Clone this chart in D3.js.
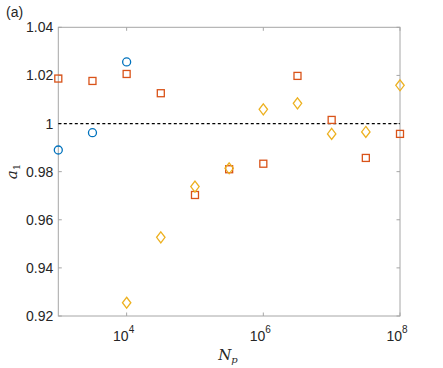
<!DOCTYPE html>
<html><head><meta charset="utf-8">
<script src="https://cdn.jsdelivr.net/npm/d3@7"></script>
<style>body{margin:0;background:#fff;} text{font-family:"Liberation Sans",Arial,sans-serif;} text.math{font-family:"DejaVu Serif","Liberation Serif",serif;font-style:italic;}</style>
</head><body><svg id="c" width="443" height="368"></svg>
<script>
const blueX = [1e3, 10**3.5, 1e4];
const blueY = [0.989, 0.9962, 1.0256];
const redX = [1e3, 10**3.5, 1e4, 10**4.5, 1e5, 10**5.5, 1e6, 10**6.5, 1e7, 10**7.5, 1e8];
const redY = [1.0187, 1.0177, 1.0206, 1.0126, 0.9703, 0.981, 0.9833, 1.0198, 1.0015, 0.9857, 0.9957];
const yelX = [1e4, 10**4.5, 1e5, 10**5.5, 1e6, 10**6.5, 1e7, 10**7.5, 1e8];
const yelY = [0.9255, 0.9527, 0.9738, 0.9814, 1.0059, 1.0084, 0.9957, 0.9965, 1.0159];
const yTicks = [0.92, 0.94, 0.96, 0.98, 1, 1.02, 1.04];
const yTickLabels = ["0.92", "0.94", "0.96", "0.98", "1", "1.02", "1.04"];
const xTicks = [1e4, 1e6, 1e8];
const xTickExp = ["4", "6", "8"];

const svg = d3.select("#c");
const L = 58.3, R = 400, T = 27.3, B = 316;
const x = d3.scaleLog().domain([1e3, 1e8]).range([L, R]);
const y = d3.scaleLinear().domain([0.92, 1.04]).range([B, T]);
const axisCol = "#a6a6a6", txt = "#262626";

const g = svg.append("g");
g.append("rect").attr("x", L).attr("y", T).attr("width", R - L).attr("height", B - T)
  .attr("fill", "none").attr("stroke", axisCol).attr("stroke-width", 1);

yTicks.forEach((v, i) => {
  const yy = y(v);
  g.append("line").attr("x1", L).attr("x2", L + 3.5).attr("y1", yy).attr("y2", yy).attr("stroke", axisCol);
  g.append("line").attr("x1", R).attr("x2", R - 3.5).attr("y1", yy).attr("y2", yy).attr("stroke", axisCol);
  g.append("text").attr("x", L - 5).attr("y", yy + 5).attr("text-anchor", "end")
    .attr("font-size", 14).attr("fill", txt).text(yTickLabels[i]);
});
xTicks.forEach((v, i) => {
  const xx = x(v);
  g.append("line").attr("x1", xx).attr("x2", xx).attr("y1", B).attr("y2", B - 3.5).attr("stroke", axisCol);
  g.append("line").attr("x1", xx).attr("x2", xx).attr("y1", T).attr("y2", T + 3.5).attr("stroke", axisCol);
  const t = g.append("text").attr("x", xx - 3).attr("y", 341).attr("text-anchor", "middle")
    .attr("font-size", 14).attr("fill", txt);
  t.append("tspan").text("10");
  t.append("tspan").attr("dy", -8).attr("font-size", 10).text(xTickExp[i]);
});

g.append("line").attr("x1", L).attr("x2", R).attr("y1", y(1)).attr("y2", y(1))
  .attr("stroke", "#000").attr("stroke-width", 1.2).attr("stroke-dasharray", "3,2.5");

const pts = g.append("g");
blueX.forEach((v, i) => {
  pts.append("circle").attr("cx", x(v)).attr("cy", y(blueY[i])).attr("r", 4)
    .attr("fill", "none").attr("stroke", "#0072BD").attr("stroke-width", 1.3);
});
redX.forEach((v, i) => {
  pts.append("rect").attr("x", x(v) - 3.5).attr("y", y(redY[i]) - 3.5).attr("width", 7).attr("height", 7)
    .attr("fill", "none").attr("stroke", "#D95319").attr("stroke-width", 1.3);
});
yelX.forEach((v, i) => {
  const cx = x(v), cy = y(yelY[i]);
  pts.append("path").attr("d", `M${cx},${cy - 5.5}L${cx + 4.2},${cy}L${cx},${cy + 5.5}L${cx - 4.2},${cy}Z`)
    .attr("fill", "none").attr("stroke", "#EDB120").attr("stroke-width", 1.3);
});

svg.append("text").attr("x", 6).attr("y", 17).attr("font-size", 14).attr("fill", txt).text("(a)");
const xl = svg.append("text").attr("class", "math").attr("x", 228).attr("y", 360).attr("text-anchor", "middle")
  .attr("font-size", 15).attr("fill", txt);
xl.append("tspan").text("N");
xl.append("tspan").attr("dy", 3).attr("font-size", 10).text("p");
const yl = svg.append("text").attr("class", "math").attr("transform", `translate(17,${(T + B) / 2}) rotate(-90)`)
  .attr("text-anchor", "middle").attr("font-size", 15).attr("fill", txt);
yl.append("tspan").text("a");
yl.append("tspan").attr("dy", 3).attr("font-size", 10).style("font-style", "normal").text("1");
</script></body></html>
